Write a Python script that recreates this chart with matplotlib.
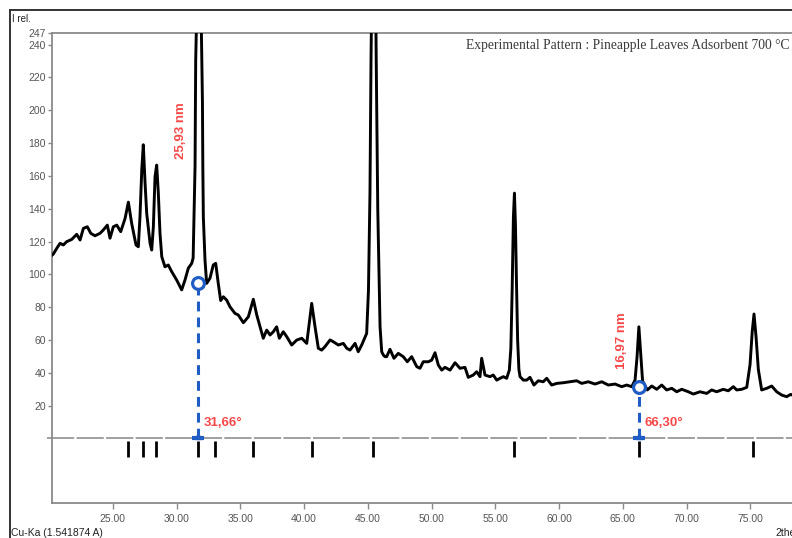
import matplotlib
matplotlib.use("Agg")
import matplotlib.pyplot as plt
from matplotlib import font_manager
from matplotlib.lines import Line2D

# ---- measured pattern (2theta in degrees, relative intensity) ----
two_theta = [
    20.20, 20.33, 20.60, 20.86, 21.12, 21.38, 21.78, 22.17, 22.43, 22.69,
    23.00, 23.27, 23.60, 24.00, 24.25, 24.57, 24.78, 25.04, 25.31, 25.62,
    25.96, 26.22, 26.48, 26.82, 27.00, 27.13, 27.27, 27.39, 27.53, 27.66,
    27.92, 28.05, 28.18, 28.31, 28.44, 28.57, 28.70, 28.84, 29.09, 29.35,
    29.62, 30.01, 30.40, 30.66, 30.92, 31.19, 31.30, 31.37, 31.45, 31.50,
    31.58, 31.75, 31.92, 31.97, 32.03, 32.06, 32.10, 32.23, 32.36, 32.62,
    32.88, 33.07, 33.27, 33.46, 33.67, 33.93, 34.19, 34.58, 34.84, 35.24,
    35.63, 36.02, 36.29, 36.55, 36.80, 37.07, 37.33, 37.59, 37.85, 38.06,
    38.37, 38.64, 39.03, 39.42, 39.82, 40.21, 40.60, 40.86, 41.12, 41.38,
    41.64, 42.04, 42.29, 42.69, 43.08, 43.35, 43.60, 44.00, 44.25, 44.52,
    44.91, 45.05, 45.17, 45.25, 45.35, 45.46, 45.58, 45.66, 45.78, 45.96,
    46.09, 46.22, 46.35, 46.48, 46.74, 47.05, 47.39, 47.78, 48.10, 48.44,
    48.84, 49.09, 49.35, 49.75, 50.01, 50.27, 50.53, 50.80, 51.05, 51.45,
    51.84, 52.23, 52.62, 52.88, 53.27, 53.54, 53.80, 53.93, 54.19, 54.58,
    54.84, 55.11, 55.37, 55.63, 55.89, 56.10, 56.22, 56.32, 56.42, 56.50,
    56.58, 56.66, 56.75, 56.85, 56.94, 57.20, 57.46, 57.72, 58.03, 58.37,
    58.76, 59.03, 59.42, 59.82, 60.33, 60.86, 61.38, 61.78, 62.29, 62.82,
    63.35, 63.86, 64.39, 64.91, 65.31, 65.70, 65.96, 66.12, 66.26, 66.40,
    66.55, 66.92, 67.27, 67.66, 68.05, 68.44, 68.84, 69.23, 69.62, 70.14,
    70.53, 71.05, 71.58, 71.97, 72.36, 72.88, 73.27, 73.67, 73.93, 74.33,
    74.72, 74.98, 75.15, 75.29, 75.45, 75.63, 75.89, 76.29, 76.68, 77.07,
    77.46, 77.85, 78.17, 78.40,
]
intensity = [
    111.5, 112.3, 115.8, 118.9, 117.9, 119.9, 121.3, 124.4, 120.9, 128.0,
    129.0, 125.0, 123.5, 125.0, 127.0, 130.0, 122.0, 129.0, 130.0, 126.0,
    134.0, 144.0, 131.0, 117.9, 116.8, 135.0, 163.6, 179.0, 155.5, 137.0,
    119.0, 114.8, 129.0, 159.5, 166.6, 149.4, 125.0, 110.7, 104.6, 105.7,
    101.6, 96.5, 90.5, 96.5, 103.7, 106.7, 110.0, 135.0, 166.0, 230.0,
    260.0, 290.0, 262.0, 235.0, 205.0, 166.0, 135.0, 108.7, 94.5, 97.6,
    105.7, 106.7, 94.5, 84.0, 86.3, 84.3, 80.2, 76.2, 75.2, 70.5,
    74.1, 84.8, 75.2, 68.0, 61.0, 66.0, 63.0, 65.0, 68.0, 61.0,
    65.0, 62.0, 56.9, 59.9, 61.0, 57.9, 82.3, 68.0, 54.9, 53.8,
    55.9, 60.0, 58.9, 56.9, 57.9, 54.9, 53.8, 57.9, 52.8, 56.9,
    64.0, 90.0, 150.0, 230.0, 300.0, 330.0, 300.0, 230.0, 140.0, 68.0,
    52.8, 50.8, 49.8, 49.8, 54.3, 48.8, 51.8, 49.8, 46.7, 49.8,
    43.7, 42.7, 46.7, 46.7, 47.7, 52.2, 44.7, 41.6, 43.3, 41.6,
    46.1, 42.7, 43.3, 37.2, 38.6, 40.6, 37.6, 48.8, 38.6, 37.6,
    38.6, 35.5, 36.6, 37.6, 36.6, 41.6, 55.0, 90.0, 135.0, 149.5,
    130.0, 95.0, 60.0, 42.0, 37.6, 35.5, 35.5, 37.2, 32.5, 35.1,
    34.5, 36.6, 32.5, 33.5, 33.9, 34.5, 35.1, 33.5, 34.5, 33.1,
    34.5, 32.5, 33.1, 31.5, 32.5, 31.5, 35.5, 50.0, 68.0, 52.0,
    35.0, 29.5, 31.9, 29.9, 32.5, 29.5, 30.5, 28.4, 29.9, 28.4,
    27.0, 28.4, 27.4, 29.5, 28.4, 29.9, 29.0, 31.5, 29.5, 29.9,
    31.1, 45.0, 65.0, 75.8, 62.0, 42.0, 29.5, 30.5, 31.9, 28.4,
    26.4, 25.4, 26.8, 26.0,
]

# reference reflection positions (stick pattern below the baseline)
ref_positions = [26.2, 27.35, 28.4, 31.66, 33.0, 36.0, 40.6, 45.4, 56.45, 66.3, 75.25]

# annotated reflections: position, marker height, crystallite size label
peak_pos = [31.66, 66.30]
peak_marker_y = [94.7, 31.1]
size_labels = ["25,93 nm", "16,97 nm"]
pos_labels = ["31,66°", "66,30°"]

y_ticks = [20, 40, 60, 80, 100, 120, 140, 160, 180, 200, 220, 240, 247]
x_ticks = [25, 30, 35, 40, 45, 50, 55, 60, 65, 70, 75]
x_tick_labels = ["%.2f" % v for v in x_ticks]

title_text = "Experimental Pattern : Pineapple Leaves Adsorbent 700 °C"

# ---- fonts ----
available = {f.name for f in font_manager.fontManager.ttflist}
narrow = "Liberation Sans Narrow" if "Liberation Sans Narrow" in available else "Liberation Sans"
serif = "Liberation Serif"
bold_sans = "Liberation Sans"

RED = "#f84848"
BLUE = "#1f5cc4"
GRAY = "#8a8a8a"

W, H = 792, 538
fig = plt.figure(figsize=(W / 100, H / 100), dpi=100)

x0, x1 = 20.23, 78.27
y0, y1 = -39.6, 247
ax = fig.add_axes([52 / W, (H - 503.3) / H, 1 - 52 / W, (503.3 - 33.2) / H])
ax.set_xlim(x0, x1)
ax.set_ylim(y0, y1)

# pattern trace
ax.plot(two_theta, intensity, color="black", lw=2.1, solid_joinstyle="round", zorder=3)

# zero baseline (grey, lightly broken)
ax.plot([19.85, x1], [0, 0], color="#a0a0a0", lw=1.4, ls=(0, (14, 1.2)),
        clip_on=False, zorder=2)

# stick pattern
ax.vlines(ref_positions, -11.5, -1.8, color="black", lw=2.0, zorder=3)

# marked reflections
for px, py in zip(peak_pos, peak_marker_y):
    ax.plot([px, px], [0, py], color=BLUE, lw=2.2, ls=(0, (3.2, 2.0)), zorder=4)
    ax.plot([px], [0], marker="_", ms=9, mew=3, color=BLUE, zorder=5)
    ax.plot([px], [1.2], marker="^", ms=4, color=BLUE, zorder=5)
    ax.plot([px], [py], marker="o", ms=8.5, mfc="white", mec=BLUE, mew=2.3, zorder=6)

ax.text(30.35, 187.4, size_labels[0], rotation=90, color=RED, fontsize=9.5,
        fontweight="bold", family=bold_sans, ha="center", va="center", zorder=7)
ax.text(64.94, 59.3, size_labels[1], rotation=90, color=RED, fontsize=9.5,
        fontweight="bold", family=bold_sans, ha="center", va="center", zorder=7)
ax.text(32.15, 9.3, pos_labels[0], color=RED, fontsize=9.5, fontweight="bold",
        family=bold_sans, ha="left", va="center", zorder=7)
ax.text(66.73, 9.3, pos_labels[1], color=RED, fontsize=9.5, fontweight="bold",
        family=bold_sans, ha="left", va="center", zorder=7)

# axes styling
ax.spines["right"].set_visible(False)
for side in ("left", "bottom", "top"):
    ax.spines[side].set_color(GRAY)
    ax.spines[side].set_linewidth(1.3)

ax.set_yticks(y_ticks)
ax.set_yticklabels([str(v) for v in y_ticks])
ax.set_xticks(x_ticks)
ax.set_xticklabels(x_tick_labels)
ax.tick_params(axis="y", direction="out", length=3, width=1, color=GRAY,
               labelsize=7.5, labelcolor="#555555", pad=1.5)
ax.tick_params(axis="x", direction="out", length=4, width=1, color=GRAY,
               labelsize=7.5, labelcolor="#555555", pad=4)
for lab in ax.get_xticklabels() + ax.get_yticklabels():
    lab.set_family(narrow)

# pattern caption inside the plot area, top right
fig.text(790 / W, 1 - 46 / H, title_text, ha="right", va="center",
         fontsize=9.8, family=serif, color="#3a3a3a")

# outer frame and page labels
fig.add_artist(Line2D([10 / W, 10 / W], [0, 1 - 10 / H], transform=fig.transFigure,
                      color="#333333", lw=1.4))
fig.add_artist(Line2D([10 / W, 1], [1 - 10 / H, 1 - 10 / H], transform=fig.transFigure,
                      color="#333333", lw=1.4))
fig.text(12 / W, 1 - 19 / H, "I rel.", fontsize=7, family=narrow, color="#222222",
         ha="left", va="center")
fig.text(11 / W, 1 - 533 / H, "Cu-Ka (1.541874 A)", fontsize=7.5, family=narrow,
         color="#222222", ha="left", va="center")
fig.text(775 / W, 1 - 533 / H, "2theta", fontsize=7.5, family=narrow,
         color="#222222", ha="left", va="center")

fig.savefig("out.png", dpi=100)
